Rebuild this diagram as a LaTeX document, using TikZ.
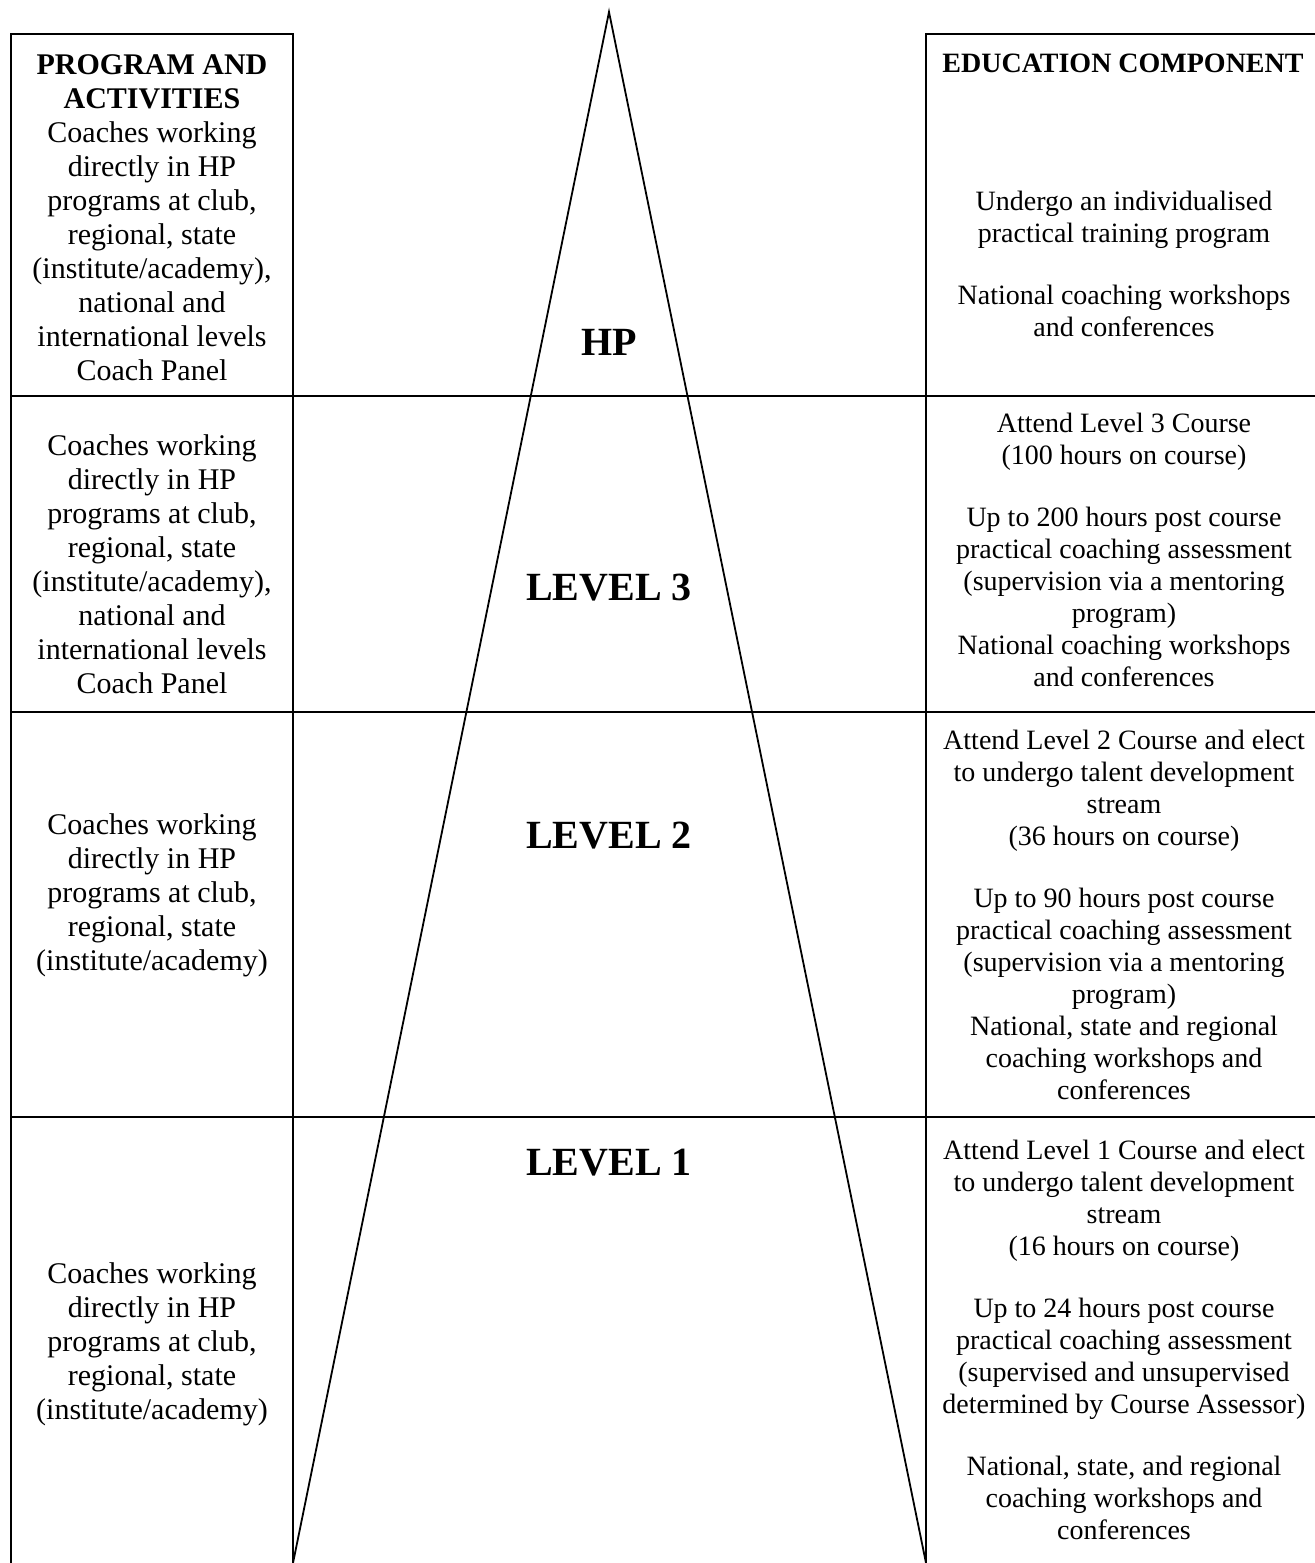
\documentclass[tikz,border=0pt]{standalone}
\usepackage{fontspec}
\setmainfont{Liberation Serif}
\begin{document}
\begin{tikzpicture}[x=0.5pt,y=-0.5pt,line width=0.9pt,
  leftcol/.style={align=center,font=\fontsize{15}{17}\selectfont},
  rightcol/.style={align=center,font=\fontsize{14}{16}\selectfont},
  levellabel/.style={font=\fontsize{20}{24}\selectfont\bfseries}]
  \useasboundingbox (0,0) rectangle (1315,1563);
  % Columnas, divisiones y piramide
  \coordinate (apex) at (609,12);
  \coordinate (baseL) at (293,1563);
  \coordinate (baseR) at (926,1563);
  \draw (11,1563) -- (11,34) -- (293,34) -- (293,1563);
  \draw (926,1563) -- (926,34) -- (1315,34);
  \draw (11,396) -- (1315,396);
  \draw (11,712) -- (1315,712);
  \draw (11,1117) -- (1315,1117);
  \draw (baseL) -- (apex) -- (baseR);

  \node[levellabel] (hp) at (609,342) {HP};
  \node[levellabel] (lvlthree) at (609,588) {LEVEL 3};
  \node[levellabel] (lvltwo) at (609,836) {LEVEL 2};
  \node[levellabel] (lvlone) at (609,1163) {LEVEL 1};

  \node[leftcol] (progA) at (152,218) {\textbf{PROGRAM AND}\\ \textbf{ACTIVITIES}\\
    Coaches working\\ directly in HP\\ programs at club,\\ regional, state\\
    (institute/academy),\\ national and\\ international levels\\ Coach Panel};
  \node[leftcol] (progB) at (152,564) {Coaches working\\ directly in HP\\ programs at club,\\
    regional, state\\ (institute/academy),\\ national and\\ international levels\\ Coach Panel};
  \node[leftcol] (progC) at (152,895) {Coaches working\\ directly in HP\\ programs at club,\\
    regional, state\\ (institute/academy)};
  \node[leftcol] (progD) at (152,1344) {Coaches working\\ directly in HP\\ programs at club,\\
    regional, state\\ (institute/academy)};

  \node[rightcol,font=\fontsize{14}{16}\selectfont\bfseries] (eduhead) at (1123,63) {EDUCATION COMPONENT};
  \node[rightcol] (eduA) at (1124,264) {Undergo an individualised\\ practical training program\\[15pt]
    National coaching workshops\\ and conferences};
  \node[rightcol] (eduB) at (1124,550) {Attend Level 3 Course\\ (100 hours on course)\\[15pt]
    Up to 200 hours post course\\ practical coaching assessment\\ (supervision via a mentoring\\
    program)\\ National coaching workshops\\ and conferences};
  \node[rightcol] (eduC) at (1124,915) {Attend Level 2 Course and elect\\ to undergo talent development\\
    stream\\ (36 hours on course)\\[15pt] Up to 90 hours post course\\ practical coaching assessment\\
    (supervision via a mentoring\\ program)\\ National, state and regional\\
    coaching workshops and\\ conferences};
  \node[rightcol] (eduD) at (1124,1340) {Attend Level 1 Course and elect\\ to undergo talent development\\
    stream\\ (16 hours on course)\\[15pt] Up to 24 hours post course\\ practical coaching assessment\\
    (supervised and unsupervised\\ determined by Course Assessor)\\[15pt]
    National, state, and regional\\ coaching workshops and\\ conferences};
\end{tikzpicture}
\end{document}
